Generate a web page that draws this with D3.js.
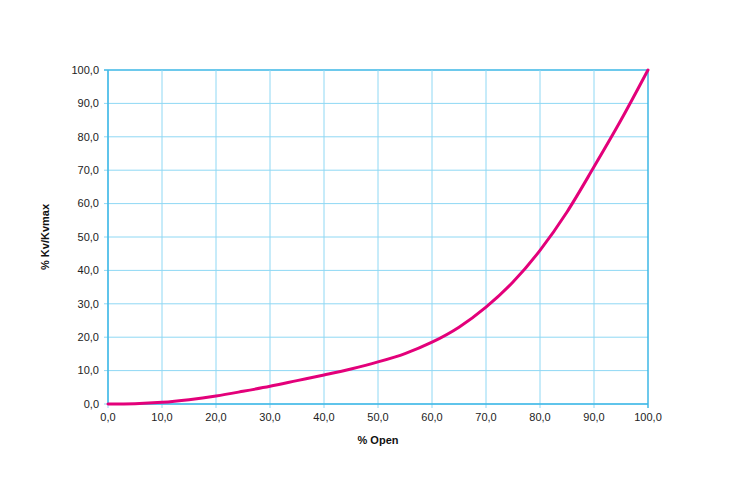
<!DOCTYPE html>
<html><head><meta charset="utf-8">
<script src="https://cdn.jsdelivr.net/npm/d3@7"></script>
<style>body{margin:0;background:#fff}svg{display:block}</style>
</head><body>
<svg id="c" width="730" height="480"></svg>
<script>
const openPct = [0,5,10,15,20,25,30,35,40,45,50,55,60,65,70,75,80,85,90,95,100];
const kvPct   = [0,0.1,0.5,1.3,2.4,3.8,5.3,7.0,8.7,10.5,12.6,15.1,18.5,23.0,29.0,36.5,46.0,57.5,71.0,85.0,100.0];
const xTicks = [0,10,20,30,40,50,60,70,80,90,100];
const yTicks = [0,10,20,30,40,50,60,70,80,90,100];

const svg = d3.select("#c");
const m = {l:108, r:82, t:70, b:76};
const W = 730, H = 480;
const x = d3.scaleLinear().domain([0,100]).range([m.l, W-m.r]);
const y = d3.scaleLinear().domain([0,100]).range([H-m.b, m.t]);
const fmt = d => d.toFixed(1).replace(".", ",");
const font = "'Liberation Sans', Arial, Helvetica, sans-serif";

// grid
svg.append("g").selectAll("line").data(yTicks).join("line")
  .attr("x1", x(0)-4).attr("x2", x(100)).attr("y1", d=>y(d)).attr("y2", d=>y(d))
  .attr("stroke", d => d===100 ? "#3db7e6" : "#8fd8f4").attr("stroke-width", d => d===100 ? 1.5 : 1);
svg.append("g").selectAll("line").data(xTicks).join("line")
  .attr("y1", y(0)+4).attr("y2", y(100)).attr("x1", d=>x(d)).attr("x2", d=>x(d))
  .attr("stroke", d => d===100 ? "#3db7e6" : "#8fd8f4").attr("stroke-width", d => d===100 ? 1.5 : 1);
// axes
svg.append("line").attr("x1", x(0)).attr("x2", x(0)).attr("y1", y(0)).attr("y2", y(100)).attr("stroke","#3db7e6").attr("stroke-width",1.5);
svg.append("line").attr("x1", x(0)).attr("x2", x(100)).attr("y1", y(0)).attr("y2", y(0)).attr("stroke","#3db7e6").attr("stroke-width",1.5);

// tick labels
svg.append("g").selectAll("text").data(yTicks).join("text")
  .attr("x", x(0)-9).attr("y", d=>y(d)).attr("dy","0.35em").attr("text-anchor","end")
  .attr("font-family", font).attr("font-size", 11).attr("fill","#222").text(fmt);
svg.append("g").selectAll("text").data(xTicks).join("text")
  .attr("x", d=>x(d)).attr("y", y(0)+17).attr("text-anchor","middle")
  .attr("font-family", font).attr("font-size", 11).attr("fill","#222").text(fmt);

// curve
svg.append("path").datum(openPct.map((o,i)=>[o,kvPct[i]]))
  .attr("fill","none").attr("stroke","#e3007a").attr("stroke-width",3)
  .attr("stroke-linecap","round")
  .attr("d", d3.line().x(d=>x(d[0])).y(d=>y(d[1])).curve(d3.curveMonotoneX));

// titles
svg.append("text").attr("x", (x(0)+x(100))/2).attr("y", 444).attr("text-anchor","middle")
  .attr("font-family", font).attr("font-size", 11).attr("font-weight","bold").attr("fill","#111").text("% Open");
svg.append("text").attr("transform", `translate(49,${(y(0)+y(100))/2}) rotate(-90)`).attr("text-anchor","middle")
  .attr("font-family", font).attr("font-size", 11).attr("font-weight","bold").attr("fill","#111").text("% Kv/Kvmax");
</script>
</body></html>
